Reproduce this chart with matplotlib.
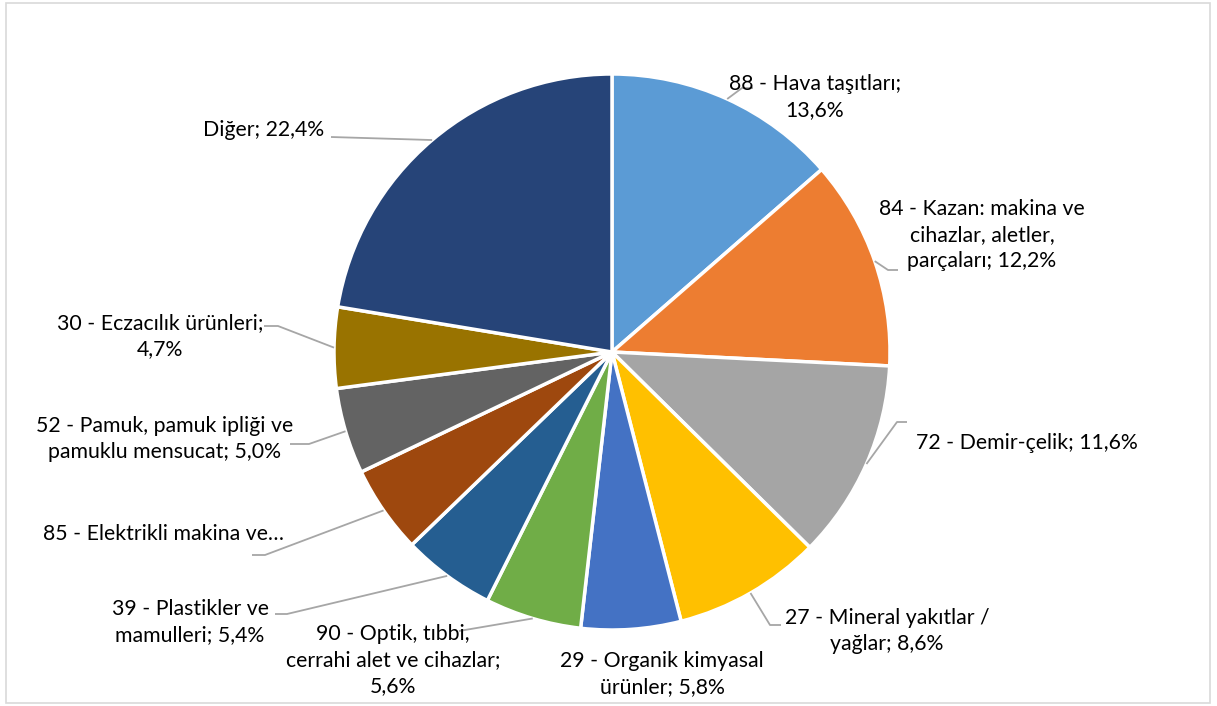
import numpy as np
import matplotlib
matplotlib.use("Agg")
import matplotlib.pyplot as plt
from matplotlib.patches import Rectangle

# shares of total (percent), clockwise from 12 o'clock
labels = [
    "88 - Hava taşıtları;\n13,6%",
    "84 - Kazan: makina ve\ncihazlar, aletler,\nparçaları; 12,2%",
    "72 - Demir-çelik; 11,6%",
    "27 - Mineral yakıtlar /\nyağlar; 8,6%",
    "29 - Organik kimyasal\nürünler; 5,8%",
    "90 - Optik, tıbbi,\ncerrahi alet ve cihazlar;\n5,6%",
    "39 - Plastikler ve\nmamulleri; 5,4%",
    "85 - Elektrikli makina ve…",
    "52 - Pamuk, pamuk ipliği ve\npamuklu mensucat; 5,0%",
    "30 - Eczacılık ürünleri;\n4,7%",
    "Diğer; 22,4%",
]
values = [13.6, 12.2, 11.6, 8.6, 5.8, 5.6, 5.4, 5.1, 5.0, 4.7, 22.4]
colors = ["#5B9BD5", "#ED7D31", "#A5A5A5", "#FFC000", "#4472C4", "#70AD47",
          "#255E91", "#9E480E", "#636363", "#997300", "#264478"]

# layout in pixel space (y measured from top of the image)
W, H = 1217, 706
CX, CY, R = 612, 352, 278

# label text centre (x, y) and leader line elbow/end (None = no leader)
label_pos = [
    (815, 97),
    (982, 235),
    (1027, 443),
    (887, 631),
    (662, 674),
    (393, 660),
    (190, 622),
    (163, 534),
    (165, 439),
    (160, 336),
    (264, 130),
]
leaders = [
    [(742, 88), (753, 88)],
    [(888, 270), (898, 270)],
    [(897, 422), (907, 422)],
    [(770, 625), (781, 625)],
    None,
    [(459, 631)],
    [(287, 614), (275, 614)],
    [(265, 555), (252, 555)],
    [(309, 444), (290, 444)],
    [(278, 326), (264, 326)],
    [(331, 137)],
]

plt.rcParams['font.family'] = ['Lato', 'DejaVu Sans']

fig = plt.figure(figsize=(W / 100, H / 100), dpi=100)
ax = fig.add_axes([0, 0, 1, 1])
ax.axis("off")

wedges, _ = ax.pie(values, colors=colors, startangle=90, counterclock=False,
                   center=(CX, H - CY), radius=R,
                   wedgeprops=dict(edgecolor="white", linewidth=2.5))
ax.set_xlim(0, W)
ax.set_ylim(0, H)
ax.set_aspect("equal")

for w, lab, (tx, ty), lead in zip(wedges, labels, label_pos, leaders):
    ax.text(tx, H - ty, lab, ha="center", va="center", fontsize=15.3,
            color="#000000", linespacing=1.36)
    if lead is None:
        continue
    mid = np.deg2rad((w.theta1 + w.theta2) / 2)
    xs = [CX + R * np.cos(mid)] + [p[0] for p in lead]
    ys = [H - CY + R * np.sin(mid)] + [H - p[1] for p in lead]
    ax.plot(xs, ys, color="#A6A6A6", linewidth=1.3, solid_capstyle="butt")

fig.patches.append(Rectangle((6 / W, 3 / H), 1204 / W, 700 / H,
                             transform=fig.transFigure, fill=False,
                             edgecolor="#D9D9D9", linewidth=1.2))

fig.savefig("out.png", dpi=100)
